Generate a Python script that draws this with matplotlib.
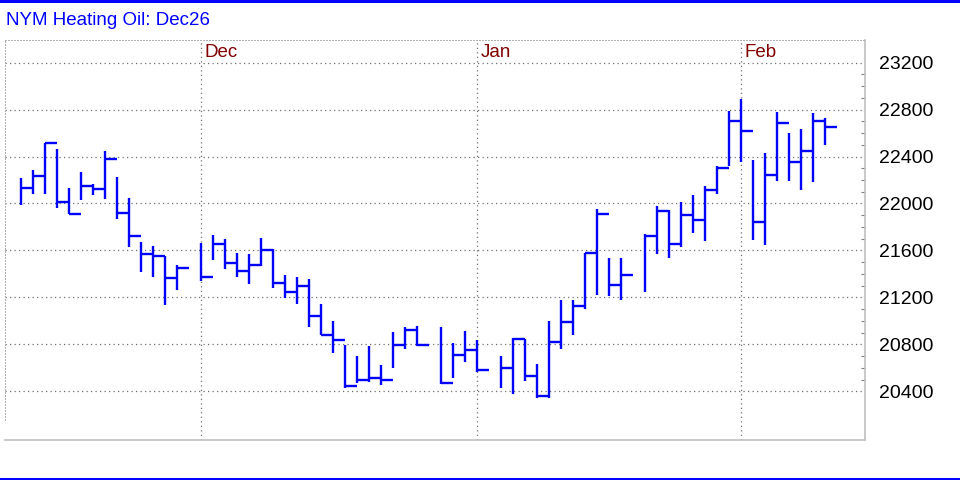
import matplotlib
matplotlib.use("Agg")
import matplotlib.pyplot as plt
from matplotlib.patches import Rectangle

title = "NYM Heating Oil: Dec26"

# daily high / low / close, None = no session on that slot
highs = [22221, 22289, 22516, 22468, 22128, 22272, 22170, 22451, 22230, 22051,
         21668, 21640, 21549, 21472, None, 21660, 21728, 21694, 21574, 21566,
         21702, 21614, 21387, 21370, 21353, 21140, 20999, 20794, 20701, 20786,
         20624, 20905, 20945, 20953, None, 20945, 20809, 20913, 20834, None,
         20701, 20851, 20845, 20630, 20999, 21177, 21180, 21577, 21957, 21538,
         21538, None, 21742, 21980, 21946, 22009, 22074, 22153, 22323, 22786,
         22894, 22369, 22428, 22777, 22599, 22633, 22769, 22726]
lows = [21989, 22082, 22082, 21963, 21909, 22034, 22074, 22040, 21869, 21631,
        21418, 21370, 21138, 21265, None, 21342, 21521, 21444, 21376, 21316,
        21464, 21282, 21191, 21146, 20950, 20879, 20729, 20425, 20468, 20482,
        20457, 20601, 20757, 20783, None, 20462, 20516, 20652, 20562, None,
        20431, 20380, 20485, 20343, 20343, 20763, 20882, 21104, 21220, 21211,
        21177, None, 21245, 21569, 21538, 21631, 21748, 21680, 22082, 22321,
        22357, 21691, 21643, 22193, 22193, 22116, 22184, 22499]
closes = [22130, 22235, 22516, 22014, 21909, 22150, 22122, 22377, 21918, 21725,
          21569, 21552, 21367, 21450, None, 21373, 21657, 21495, 21424, 21478,
          21606, 21325, 21248, 21299, 21044, 20879, 20840, 20445, 20499, 20516,
          20499, 20797, 20925, 20794, None, 20474, 20712, 20755, 20584, None,
          20601, 20843, 20533, 20363, 20817, 20987, 21124, 21577, 21909, 21305,
          21390, None, 21719, 21935, 21651, 21898, 21858, 22113, 22300, 22704,
          22618, 21844, 22241, 22687, 22355, 22448, 22704, 22650]

months = ["Dec", "Jan", "Feb"]
month_start = [15, 38, 60]   # slot of first session in the month

price_ticks = [20400, 20800, 21200, 21600, 22000, 22400, 22800, 23200]
minor_ticks = list(range(20500, 23200, 100))

BLUE = "#0000ff"
plt.rcParams['font.family'] = ['Liberation Sans', 'DejaVu Sans']

fig = plt.figure(figsize=(9.6, 4.8), dpi=100)
ax = fig.add_axes([5 / 960, 40 / 480, 860 / 960, 400 / 480])

xs, hi, lo, cl = [], [], [], []
for i in range(len(highs)):
    if highs[i] is None:
        continue
    xs.append(i)
    hi.append(highs[i])
    lo.append(lows[i])
    cl.append(closes[i])

ax.vlines(xs, lo, hi, color=BLUE, lw=1.7, capstyle='butt', zorder=3)
ax.hlines(cl, xs, [x + 0.97 for x in xs], color=BLUE, lw=1.7, capstyle='butt', zorder=3)

ax.set_xlim(-1.33, 70.33)
ax.set_ylim(19985, 23393)

# grid
for y in price_ticks:
    ax.axhline(y, color="#707070", lw=0.9, ls=(0, (1, 2.6)), zorder=1)
for m, s in zip(months, month_start):
    ax.axvline(s, color="#707070", lw=0.9, ls=(0, (1, 2.6)), zorder=1)
    ax.text(s + 0.33, 0.9675, m, transform=ax.get_xaxis_transform(),
            color="#800000", fontsize=13.5, va='center', ha='left')

ax.set_xticks([])
ax.yaxis.tick_right()
ax.set_yticks(price_ticks)
ax.set_yticks(minor_ticks, minor=True)
ax.tick_params(axis='y', which='major', length=0, pad=10, labelsize=14, labelcolor='black')
ax.tick_params(axis='y', which='minor', direction='in', length=3, color='#808080', width=0.8)

for side in ['top', 'left']:
    ax.spines[side].set_color('#b0b0b0')
    ax.spines[side].set_linestyle((0, (1, 2)))
    ax.spines[side].set_linewidth(0.72)
ax.spines['left'].set_bounds(20155, 23393)
for side in ['right', 'bottom']:
    ax.spines[side].set_color('#c0c0c0')
    ax.spines[side].set_linewidth(1.2)

fig.text(6 / 960, 1 - 20.5 / 480, title, color=BLUE, fontsize=13.5, va='center', ha='left')

# blue frame lines at top and bottom
fig.add_artist(Rectangle((0, 1 - 3 / 480), 1, 3 / 480, transform=fig.transFigure,
                         color=BLUE, lw=0))
fig.add_artist(Rectangle((0, 0), 1, 2.5 / 480, transform=fig.transFigure,
                         color=BLUE, lw=0))

fig.savefig("out.png", dpi=100)
